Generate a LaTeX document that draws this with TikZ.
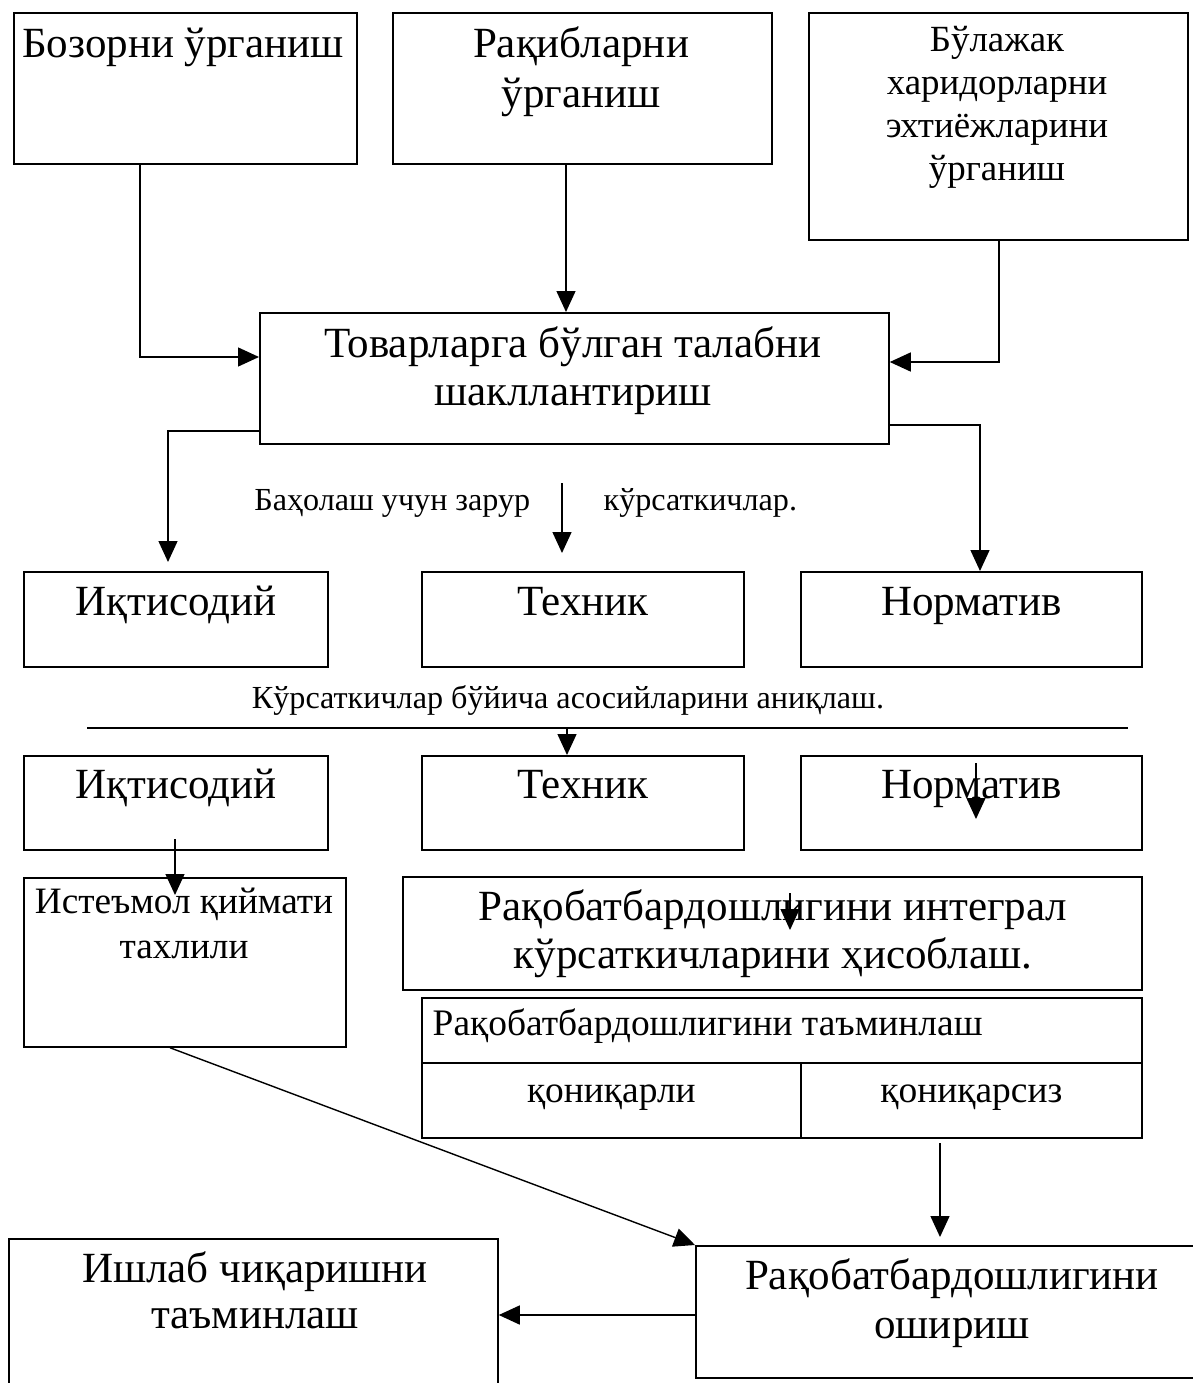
\documentclass[tikz,border=0pt]{standalone}
\usepackage{fontspec}
\setmainfont{Liberation Serif}
\usetikzlibrary{arrows.meta,calc}

\tikzset{
  box/.style 2 args={draw, line width=1pt, anchor=north west, inner sep=0pt,
    minimum width=#1*0.02cm, minimum height=#2*0.02cm},
  txt/.style 2 args={font=\fontsize{#1}{#2}\selectfont, align=center, inner sep=0pt, anchor=base},
}

\begin{document}
\begin{tikzpicture}[x=0.02cm, y=-0.02cm, line width=0.8pt,
  >={Triangle[length=0.42cm, width=0.38cm]}]
\useasboundingbox (0,0) rectangle (1193,1383);

% top row (multi-line texts are placed by their last baseline)
\node[box={343}{151}] (bz) at (13,12) {};
\node[txt={24.5}{28}] (bz-t) at (183,57) {Бозорни ўрганиш};
\node[box={379}{151}] (rq) at (392,12) {};
\node[txt={24.5}{28.3}] (rq-t) at (581,107) {Рақибларни\\ ўрганиш};
\node[box={379}{227}] (bl) at (808,12) {};
\node[txt={21}{24.4}] (bl-t) at (997,180) {Бўлажак\\ харидорларни\\ эхтиёжларини\\ ўрганиш};

\node[box={629}{131}] (tv) at (259,312) {};
\node[txt={24.5}{27.2}] (tv-t) at (573,405) {Товарларга бўлган талабни\\ шакллантириш};

\coordinate (kbz) at (140,357);
\coordinate (kbl) at (999,362);
\coordinate (kik) at (168,431);
\coordinate (knr) at (980,425);
\draw[->] (bz.south -| kbz) -- (kbz) -- (tv.west |- kbz);
\draw[->] (rq.south -| 566,0) -- (tv.north -| 566,0);
\draw[->] (bl.south -| kbl) -- (kbl) -- (tv.east |- kbl);

% indicators
\foreach \n/\x/\w in {ik/23/304, tx/421/322, nr/800/341}
{
  \node[box={\w}{95}] (\n1) at (\x,571) {};
  \node[box={\w}{94}] (\n2) at (\x,755) {};
}
\foreach \n/\t in {ik/Иқтисодий, tx/Техник, nr/Норматив}
{
  \node[txt={24.5}{28}] (\n1-t) at ($(\n1.north)+(0,44)$) {\t};
  \node[txt={24.5}{28}] (\n2-t) at ($(\n2.north)+(0,43)$) {\t};
}
\draw[->, shorten >=0.18cm] (tv.west |- kik) -- (kik) -- (kik |- ik1.north);
\draw[->] (tv.east |- knr) -- (knr) -- (knr |- nr1.north);

\coordinate (m1) at (562,483);
\coordinate (m2) at (562,553);
\draw[->] (m1) -- (m2);
\node[txt={18.3}{21}, anchor=base east] (bh) at (531,510) {Баҳолаш учун зарур};
\node[txt={18.3}{21}, anchor=base west] (kr) at (603,510) {кўрсаткичлар.};

\node[txt={18.3}{21}] (as) at (568,708) {Кўрсаткичлар бўйича асосийларини аниқлаш.};
\coordinate (ln1) at (87,728);
\coordinate (ln2) at (1128,728);
\draw (ln1) -- (ln2);
\draw[->] (567,728) -- (tx2.north -| 567,0);

% lower part
\node[box={322}{169}] (ist) at (23,877) {};
\node[txt={21.2}{25.5}] (ist-t) at (184,958) {Истеъмол қиймати\\ тахлили};
\node[box={739}{113}] (itg) at (402,876) {};
\node[txt={24.5}{27.2}] (itg-t) at (773,968) {Рақобатбардошлигини интеграл\\ кўрсаткичларини ҳисоблаш.};
\node[box={720}{65}] (tm) at (421,997) {};
\node[txt={21.3}{25}, anchor=base west] (tm-t) at (432,1035) {Рақобатбардошлигини таъминлаш};
\node[box={379}{75}] (qa) at (421,1062) {};
\node[box={341}{75}] (qs) at (800,1062) {};
\node[txt={21.3}{25}] (qa-t) at ($(qa.north)+(0,40)$) {қониқарли};
\node[txt={21.3}{25}] (qs-t) at ($(qs.north)+(0,40)$) {қониқарсиз};

\draw[->] (175,839) -- (175,895);
\draw[->] (976,763) -- (976,819);
\draw[->] (790,893) -- (790,930);

\node[box={489}{150}] (ish) at (8,1238) {};
\node[txt={24.5}{26}] (ish-t) at (255,1328) {Ишлаб чиқаришни\\ таъминлаш};
\node[box={515}{132}] (osh) at (695,1245) {};
\node[txt={24.5}{27.8}] (osh-t) at (952,1338) {Рақобатбардошлигини\\ ошириш};

\draw[->] (940,1143) -- (940,1237);
\draw[->] (ist.south -| 170,0) -- (osh.north west);
\draw[->] (osh.west |- 0,1315) -- (ish.east |- 0,1315);
\end{tikzpicture}
\end{document}
